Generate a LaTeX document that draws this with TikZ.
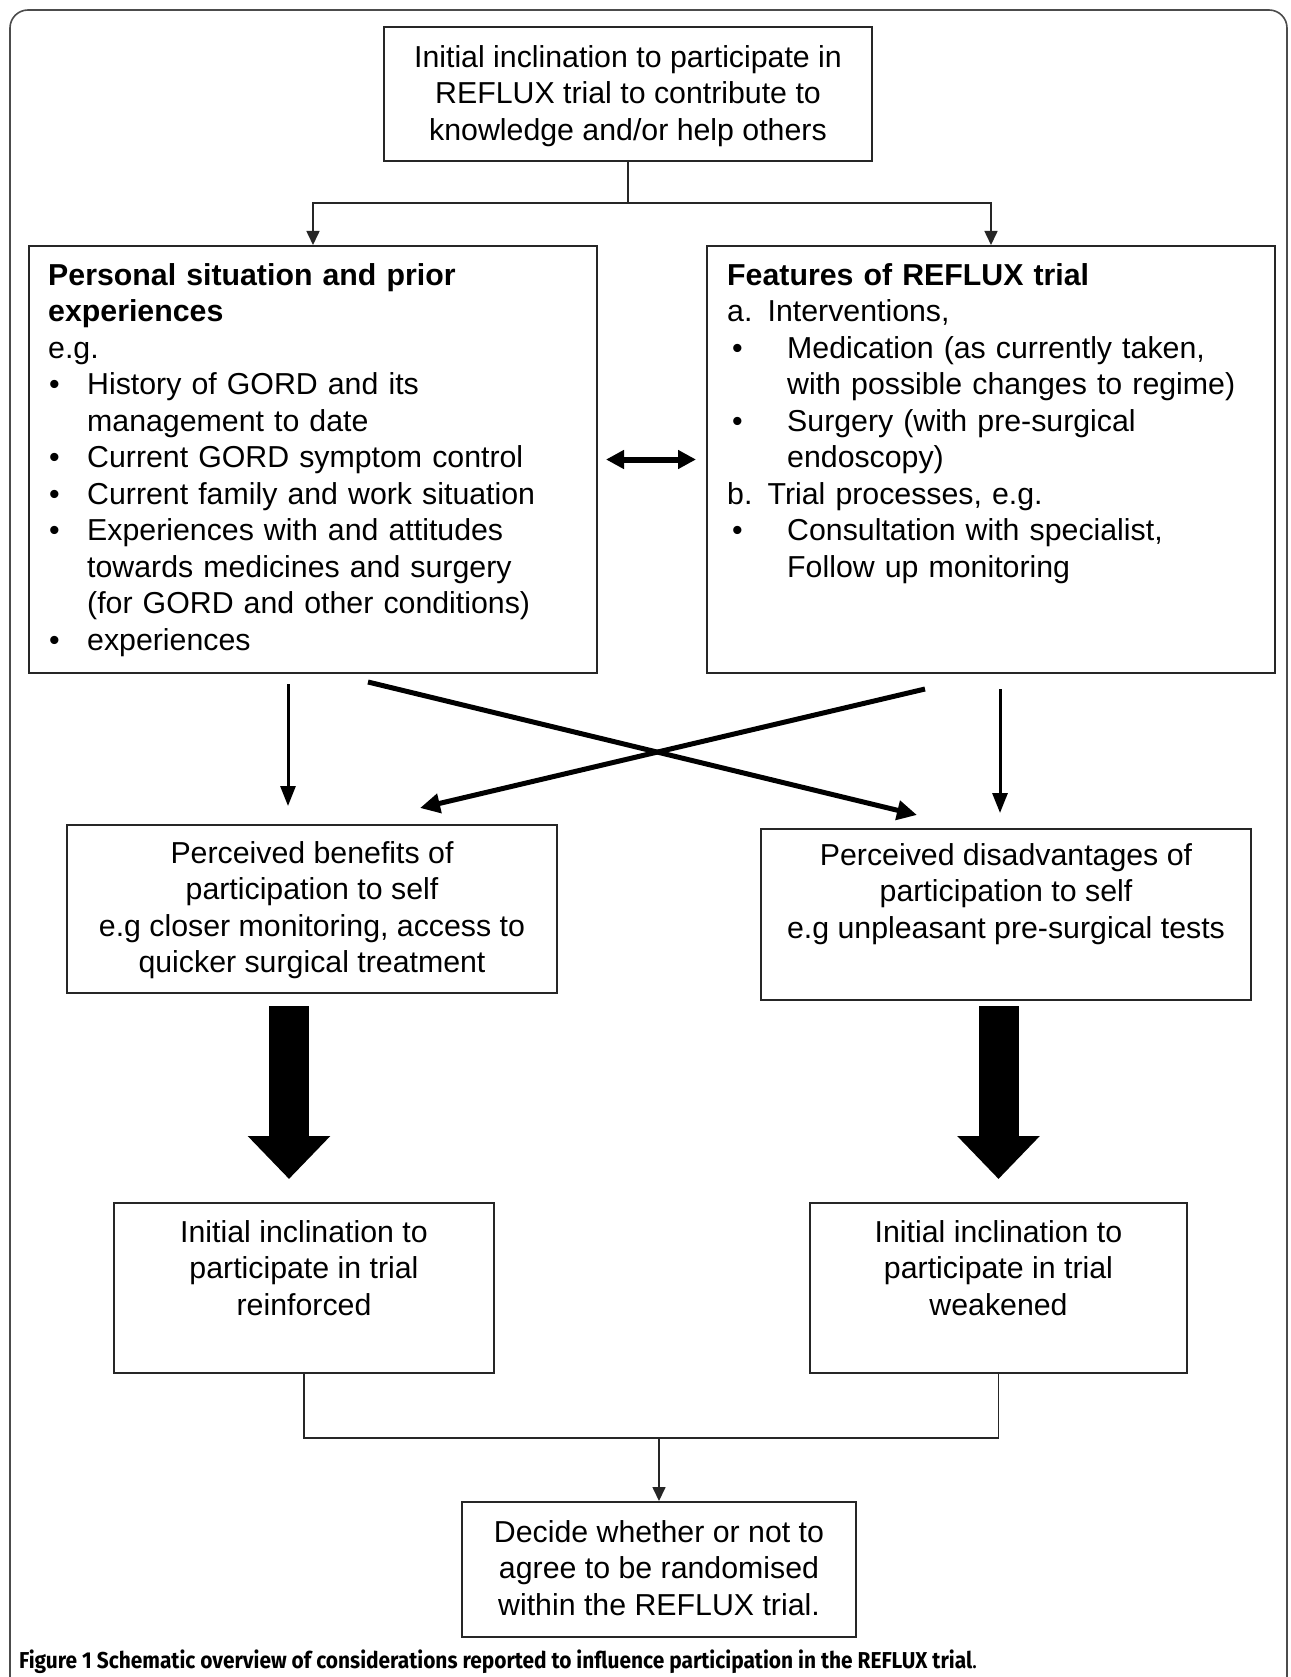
\documentclass[tikz,border=0pt]{standalone}
\usepackage{fontspec}
\usepackage{graphicx}
\setmainfont{Liberation Sans}
\newfontfamily\capfont{Fira Sans}
\usetikzlibrary{arrows.meta}
\newcommand{\bulA}{\makebox[39pt][l]{\hspace*{1pt}\textbullet}}
\newcommand{\indA}{\hspace*{39pt}}
\newcommand{\bulB}{\makebox[60pt][l]{\hspace*{5pt}\textbullet}}
\newcommand{\indB}{\hspace*{60pt}}
\tikzset{
  box/.style={draw=black!85, line width=2pt, rectangle, inner sep=0pt},
  txt/.style={inner sep=0pt, font=\fontsize{30.3pt}{36.5pt}\selectfont, text=black},
  ctxt/.style={txt, anchor=north, align=center},
  ltxt/.style={txt, anchor=north west, align=left, text width=#1},
  thinarrow/.style={draw=black!85, line width=1.6pt, -{Triangle[length=14pt,width=13pt]}},
  thinline/.style={draw=black!85, line width=1.6pt},
  medarrow/.style={draw=black, line width=3pt, -{Triangle[length=20pt,width=15pt]}},
  crossarrow/.style={draw=black, line width=5pt, -{Triangle[length=20pt,width=19pt]}},
  dblarrow/.style={draw=black, line width=6pt, {Triangle[length=18pt,width=18pt]}-{Triangle[length=18pt,width=18pt]}},
  bigarrow/.style={draw=black, line width=40pt, -{Triangle[length=43pt,width=80pt]}},
  frame/.style={draw=black!70, line width=1.6pt, rounded corners=18pt}
}
\begin{document}
\begin{tikzpicture}[x=1pt,y=-1pt]
\useasboundingbox (0,0) rectangle (1290,1677);
\fill[white] (0,0) rectangle (1290,1677);
\draw[frame] (10,1677) -- (10,10) -- (1287,10) -- (1287,1677);

% boxes
\node[box, minimum width=488pt, minimum height=134pt] (top) at (628,94) {};
\node[box, minimum width=568pt, minimum height=427pt] (pers) at (313,459.5) {};
\node[box, minimum width=568pt, minimum height=427pt] (feat) at (991,459.5) {};
\node[box, minimum width=490pt, minimum height=168pt] (ben) at (312,909) {};
\node[box, minimum width=490pt, minimum height=171pt] (dis) at (1006,914.5) {};
\node[box, minimum width=380pt, minimum height=170pt] (reinf) at (304,1288) {};
\node[box, minimum width=377pt, minimum height=170pt] (weak) at (998.5,1288) {};
\node[box, minimum width=394pt, minimum height=135pt] (decide) at (659,1569.5) {};

% texts
\node[ctxt] (toptext) at (628,41.5) {\strut Initial inclination to participate in\\REFLUX trial to contribute to\\knowledge and/or help others};
\node[ltxt=545pt] (perstext) at (48,259.5) {\strut\textbf{Personal situation and prior}\\
\textbf{experiences}\\
e.g.\\
\bulA History of GORD and its\\
\indA management to date\\
\bulA Current GORD symptom control\\
\bulA Current family and work situation\\
\bulA Experiences with and attitudes\\
\indA towards medicines and surgery\\
\indA (for GORD and other conditions)\\
\bulA experiences};
\node[ltxt=545pt] (feattext) at (727,259.5) {\strut\textbf{Features of REFLUX trial}\\
a. Interventions,\\
\bulB Medication (as currently taken,\\
\indB with possible changes to regime)\\
\bulB Surgery (with pre-surgical\\
\indB endoscopy)\\
b. Trial processes, e.g.\\
\bulB Consultation with specialist,\\
\indB Follow up monitoring};
\node[ctxt] (bentext) at (312,837.5) {\strut Perceived benefits of\\participation to self\\e.g closer monitoring, access to\\quicker surgical treatment};
\node[ctxt] (distext) at (1006,839.5) {\strut Perceived disadvantages of\\participation to self\\e.g unpleasant pre-surgical tests};
\node[ctxt] (reinftext) at (304,1216.5) {\strut Initial inclination to\\participate in trial\\reinforced};
\node[ctxt] (weaktext) at (998.5,1216.5) {\strut Initial inclination to\\participate in trial\\weakened};
\node[ctxt] (decidetext) at (659,1516.5) {\strut Decide whether or not to\\agree to be randomised\\within the REFLUX trial.};

% top tree
\coordinate (j1) at (628,203);
\draw[thinline] (top.south) -- (j1);
\draw[thinarrow] (j1) -| (pers.north);
\draw[thinarrow] (j1) -| (feat.north);

% double arrow
\draw[dblarrow] ([xshift=8pt]pers.east) -- ([xshift=-10pt]feat.west);

% vertical arrows
\draw[medarrow] ([xshift=-25pt,yshift=-10pt]pers.south) -- ([xshift=-24pt,yshift=18pt]ben.north);
\draw[medarrow] ([xshift=9pt,yshift=-15pt]feat.south) -- ([xshift=-6pt,yshift=15pt]dis.north);

% cross arrows
\draw[crossarrow] ([xshift=55pt,yshift=-8pt]pers.south) -- ([xshift=-89pt,yshift=13pt]dis.north);
\draw[crossarrow] ([xshift=-66pt,yshift=-15pt]feat.south) -- ([xshift=108pt,yshift=16pt]ben.north);

% big block arrows
\draw[bigarrow] ([xshift=-23pt,yshift=-12pt]ben.south) -- ([xshift=-15pt,yshift=23pt]reinf.north);
\draw[bigarrow] ([xshift=-7.5pt,yshift=-5pt]dis.south) -- ([yshift=23pt]weak.north);

% bottom tree
\coordinate (j2) at (659,1438);
\draw[thinline] (reinf.south) |- (weak.south |- j2) -- (weak.south);
\draw[thinarrow] (j2) -- (decide.north);

% caption
\node[anchor=base west, inner sep=0pt] (caption) at (19,1668) {\resizebox{958pt}{\height}{\capfont\fontsize{23pt}{27pt}\selectfont\textbf{Figure 1 Schematic overview of considerations reported to influence participation in the REFLUX trial}.}};
\end{tikzpicture}
\end{document}
